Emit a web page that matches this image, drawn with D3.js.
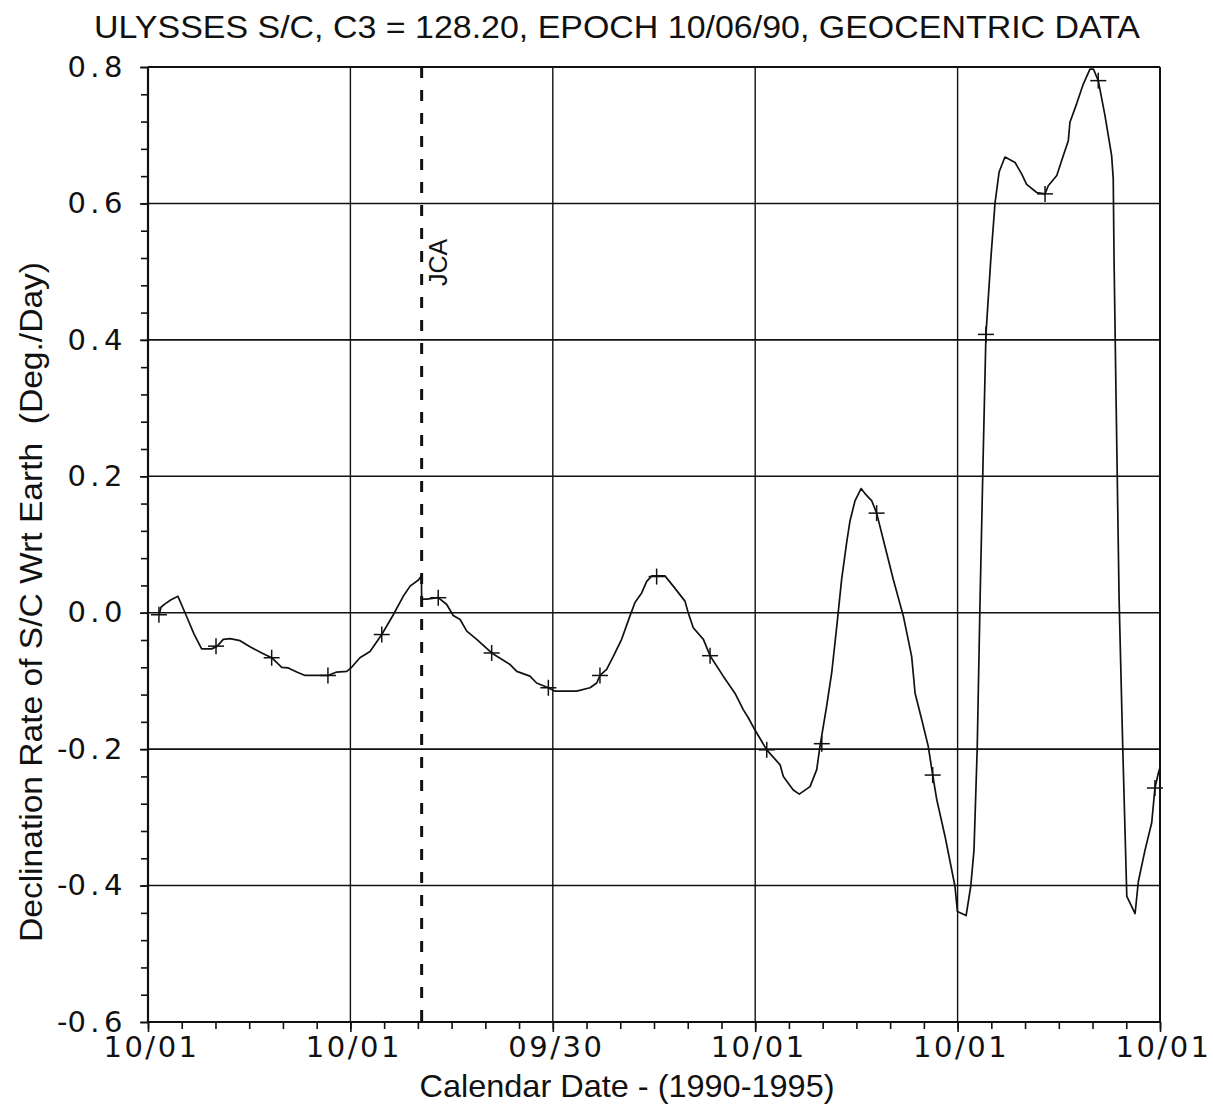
<!DOCTYPE html>
<html>
<head>
<meta charset="utf-8">
<script src="https://cdn.jsdelivr.net/npm/d3@7"></script>
<style>
  body { margin: 0; background: #fff; }
  svg { display: block; }
</style>
</head>
<body>
<svg id="chart" width="1213" height="1113"></svg>
<script>
// Years elapsed since 1990-10-01 at each major (yearly) tick, with their labels
const yearTicks = [0, 1, 2, 3, 4, 5];
const dateLabels = ["10/01", "10/01", "09/30", "10/01", "10/01", "10/01"];
const rateTicks = [-0.6, -0.4, -0.2, 0.0, 0.2, 0.4, 0.6, 0.8];

// Jupiter closest approach
const jcaYear = 1.352;

// Declination rate trace (years since 1990-10-01, deg/day)
const years = [
  0.057, 0.064, 0.084, 0.114, 0.148, 0.193, 0.227, 0.265, 0.315, 0.342,
  0.372, 0.405, 0.455, 0.504, 0.562, 0.611, 0.661, 0.693, 0.735, 0.776,
  0.850, 0.889, 0.932, 0.982, 1.006, 1.047, 1.097, 1.155, 1.212, 1.261,
  1.295, 1.336, 1.351, 1.352, 1.377, 1.434, 1.476, 1.508, 1.542, 1.575,
  1.624, 1.698, 1.789, 1.822, 1.887, 1.920, 1.978, 2.011, 2.118, 2.184,
  2.217, 2.233, 2.266, 2.299, 2.340, 2.381, 2.406, 2.439, 2.464, 2.489,
  2.554, 2.595, 2.653, 2.669, 2.694, 2.744, 2.777, 2.842, 2.900, 2.941,
  2.966, 2.999, 3.057, 3.123, 3.139, 3.188, 3.218, 3.271, 3.304, 3.320,
  3.353, 3.378, 3.403, 3.427, 3.452, 3.468, 3.493, 3.523, 3.547, 3.576,
  3.600, 3.633, 3.682, 3.732, 3.773, 3.790, 3.823, 3.855, 3.877, 3.897,
  3.938, 3.987, 3.999, 4.042, 4.065, 4.081, 4.097, 4.111, 4.126, 4.140,
  4.164, 4.185, 4.205, 4.234, 4.284, 4.317, 4.341, 4.391, 4.432, 4.448,
  4.490, 4.522, 4.547, 4.555, 4.588, 4.621, 4.654, 4.671, 4.695, 4.728,
  4.761, 4.769, 4.773, 4.783, 4.798, 4.816, 4.836, 4.877, 4.893, 4.926,
  4.959, 4.975, 4.992, 5.000
];
const rates = [
  -0.001, 0.008, 0.013, 0.019, 0.024, -0.007, -0.031, -0.053, -0.053, -0.049,
  -0.039, -0.038, -0.041, -0.050, -0.059, -0.066, -0.080, -0.081, -0.087, -0.092,
  -0.092, -0.092, -0.087, -0.086, -0.080, -0.066, -0.057, -0.032, -0.003, 0.024,
  0.039, 0.048, 0.054, 0.020, 0.020, 0.022, 0.012, -0.004, -0.010, -0.027,
  -0.039, -0.059, -0.076, -0.086, -0.093, -0.103, -0.110, -0.115, -0.115, -0.110,
  -0.103, -0.092, -0.083, -0.064, -0.039, -0.005, 0.015, 0.029, 0.046, 0.054,
  0.054, 0.039, 0.017, 0.000, -0.022, -0.039, -0.063, -0.093, -0.118, -0.142,
  -0.154, -0.172, -0.201, -0.223, -0.240, -0.260, -0.266, -0.255, -0.230, -0.196,
  -0.137, -0.088, -0.020, 0.049, 0.103, 0.134, 0.164, 0.182, 0.173, 0.164,
  0.146, 0.107, 0.049, -0.005, -0.064, -0.118, -0.157, -0.196, -0.238, -0.274,
  -0.328, -0.401, -0.438, -0.444, -0.401, -0.348, -0.198, 0.019, 0.225, 0.408,
  0.518, 0.601, 0.646, 0.668, 0.660, 0.643, 0.628, 0.616, 0.614, 0.626,
  0.641, 0.670, 0.692, 0.719, 0.746, 0.775, 0.797, 0.797, 0.780, 0.729,
  0.670, 0.636, 0.518, 0.313, 0.019, -0.198, -0.416, -0.441, -0.394, -0.348,
  -0.308, -0.257, -0.235, -0.227
];

// "+" markers placed along the trace
const markerYears = [0.054, 0.336, 0.611, 0.889, 1.155, 1.434, 1.698, 1.978, 2.233, 2.513,
                     2.777, 3.057, 3.329, 3.600, 3.877, 4.140, 4.432, 4.695, 4.975];
const markerRates = [-0.003, -0.049, -0.066, -0.092, -0.032, 0.022, -0.059, -0.110, -0.092, 0.053,
                     -0.063, -0.201, -0.192, 0.146, -0.238, 0.408, 0.614, 0.780, -0.257];

const svg = d3.select("#chart");
const plot = { left: 148, right: 1160, top: 67, bottom: 1022 };

const x = d3.scaleLinear().domain([0, 5]).range([plot.left, plot.right]);
const y = d3.scaleLinear().domain([-0.6, 0.8]).range([plot.bottom, plot.top]);

const ink = "#111";
const tickFont = "'DejaVu Sans', sans-serif";
const labelFont = "'Liberation Sans', Arial, sans-serif";

// Horizontal grid
svg.append("g")
  .selectAll("line")
  .data(rateTicks)
  .join("line")
  .attr("x1", plot.left).attr("x2", plot.right)
  .attr("y1", d => y(d)).attr("y2", d => y(d))
  .attr("stroke", ink).attr("stroke-width", 1.6);

// Vertical grid
svg.append("g")
  .selectAll("line")
  .data(yearTicks)
  .join("line")
  .attr("x1", d => x(d)).attr("x2", d => x(d))
  .attr("y1", plot.top).attr("y2", plot.bottom)
  .attr("stroke", ink).attr("stroke-width", 1.4);

// Frame edges
svg.append("line").attr("x1", plot.left).attr("x2", plot.right)
  .attr("y1", plot.top).attr("y2", plot.top).attr("stroke", ink).attr("stroke-width", 2.2);
svg.append("line").attr("x1", plot.left).attr("x2", plot.right)
  .attr("y1", plot.bottom).attr("y2", plot.bottom).attr("stroke", ink).attr("stroke-width", 2.2);
svg.append("line").attr("x1", plot.left).attr("x2", plot.left)
  .attr("y1", plot.top).attr("y2", plot.bottom).attr("stroke", ink).attr("stroke-width", 2.2);
svg.append("line").attr("x1", plot.right).attr("x2", plot.right)
  .attr("y1", plot.top).attr("y2", plot.bottom).attr("stroke", ink).attr("stroke-width", 2);

// Left axis: minor ticks every 0.04
const minorRates = d3.range(0, 36).map(i => +(-0.6 + i * 0.04).toFixed(2));
const yMinor = svg.append("g")
  .attr("transform", `translate(${plot.left},0)`)
  .call(d3.axisLeft(y).tickValues(minorRates).tickSize(7).tickFormat(""));
yMinor.select(".domain").remove();
yMinor.selectAll("line").attr("stroke", ink).attr("stroke-width", 1.6);

// Left axis: labelled ticks (sign kept tight against the digits)
const yAxis = svg.append("g")
  .attr("transform", `translate(${plot.left},0)`)
  .call(d3.axisLeft(y).tickValues(rateTicks).tickSize(8).tickPadding(17)
    .tickFormat(d => Math.abs(d).toFixed(1)));
yAxis.select(".domain").remove();
yAxis.selectAll("line").attr("stroke", ink).attr("stroke-width", 1.6);
yAxis.selectAll("text")
  .attr("fill", ink)
  .attr("dx", 4)
  .style("font-family", tickFont)
  .style("font-size", "29px")
  .style("letter-spacing", "4.5px")
  .each(function (d) {
    if (d < 0) {
      const t = d3.select(this);
      const digits = t.text();
      t.text(null);
      t.append("tspan").style("letter-spacing", "0px").text("-");
      t.append("tspan").text(digits);
    }
  });

// Bottom axis: minor ticks every two months
const minorYears = d3.range(0, 31).map(i => i / 6);
const xMinor = svg.append("g")
  .attr("transform", `translate(0,${plot.bottom})`)
  .call(d3.axisBottom(x).tickValues(minorYears).tickSize(7).tickFormat(""));
xMinor.select(".domain").remove();
xMinor.selectAll("line").attr("stroke", ink).attr("stroke-width", 1.6);

// Bottom axis: yearly ticks with dates
const xAxis = svg.append("g")
  .attr("transform", `translate(0,${plot.bottom})`)
  .call(d3.axisBottom(x).tickValues(yearTicks).tickSize(10).tickPadding(4)
    .tickFormat((d, i) => dateLabels[i]));
xAxis.select(".domain").remove();
xAxis.selectAll("line").attr("stroke", ink).attr("stroke-width", 1.6);
xAxis.selectAll("text")
  .attr("fill", ink)
  .attr("dx", 3)
  .style("font-family", tickFont)
  .style("font-size", "29px")
  .style("letter-spacing", "2.5px");

// JCA marker
svg.append("line")
  .attr("x1", x(jcaYear)).attr("x2", x(jcaYear))
  .attr("y1", plot.top).attr("y2", plot.bottom)
  .attr("stroke", ink).attr("stroke-width", 3)
  .attr("stroke-dasharray", "11 12");
svg.append("text")
  .attr("transform", `translate(${x(jcaYear) + 25},286) rotate(-90)`)
  .attr("fill", ink)
  .style("font-family", labelFont)
  .style("font-size", "25px")
  .text("JCA");

// Trace
const series = years.map((t, i) => [t, rates[i]]);
svg.append("path")
  .datum(series)
  .attr("fill", "none")
  .attr("stroke", ink)
  .attr("stroke-width", 1.7)
  .attr("stroke-linejoin", "round")
  .attr("d", d3.line().x(d => x(d[0])).y(d => y(d[1])));

// "+" markers
const markers = markerYears.map((t, i) => [x(t), y(markerRates[i])]);
const crosses = svg.append("g").attr("stroke", ink).attr("stroke-width", 1.5);
crosses.selectAll("line.h").data(markers).join("line").attr("class", "h")
  .attr("x1", d => d[0] - 8).attr("x2", d => d[0] + 8)
  .attr("y1", d => d[1]).attr("y2", d => d[1]);
crosses.selectAll("line.v").data(markers).join("line").attr("class", "v")
  .attr("x1", d => d[0]).attr("x2", d => d[0])
  .attr("y1", d => d[1] - 8).attr("y2", d => d[1] + 8);

// Title and axis titles
svg.append("text")
  .attr("x", 617).attr("y", 38)
  .attr("text-anchor", "middle")
  .attr("textLength", 1046).attr("lengthAdjust", "spacingAndGlyphs")
  .attr("fill", ink)
  .style("font-family", labelFont)
  .style("font-size", "32px")
  .text("ULYSSES S/C, C3 = 128.20, EPOCH 10/06/90, GEOCENTRIC DATA");

svg.append("text")
  .attr("x", 627).attr("y", 1097)
  .attr("text-anchor", "middle")
  .attr("textLength", 415).attr("lengthAdjust", "spacingAndGlyphs")
  .attr("fill", ink)
  .style("font-family", labelFont)
  .style("font-size", "32px")
  .text("Calendar Date - (1990-1995)");

svg.append("text")
  .attr("transform", "translate(42,602) rotate(-90)")
  .attr("text-anchor", "middle")
  .attr("textLength", 680).attr("lengthAdjust", "spacingAndGlyphs")
  .attr("fill", ink)
  .style("font-family", labelFont)
  .style("font-size", "32px")
  .style("white-space", "pre")
  .text("Declination Rate of S/C Wrt Earth  (Deg./Day)");
</script>
</body>
</html>
